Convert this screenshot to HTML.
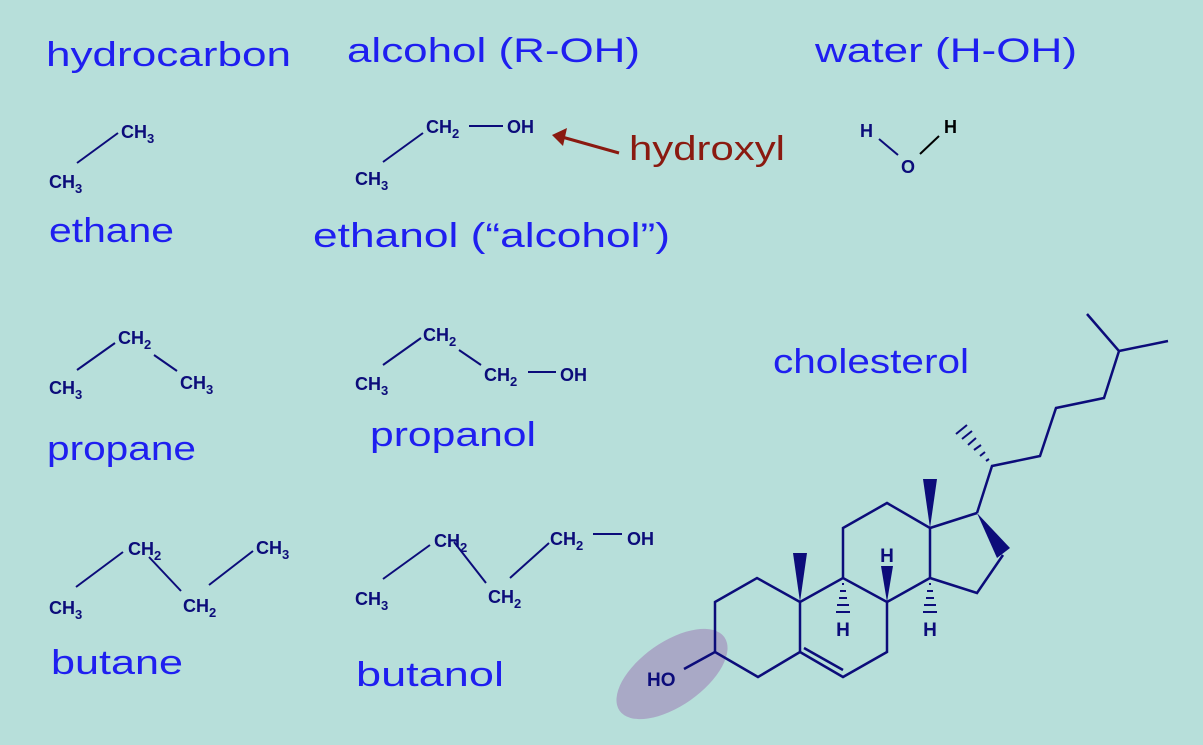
<!DOCTYPE html>
<html><head><meta charset="utf-8"><style>
html,body{margin:0;padding:0;background:#b7dfda;}
svg{display:block;}
.h{font-family:"Liberation Sans",sans-serif;fill:#1f1ff0;font-size:34px;}
.c{font-family:"Liberation Sans",sans-serif;font-weight:bold;fill:#0c0c7a;font-size:18px;}
.c tspan.s{font-size:13px;}
</style></head><body>
<svg width="1203" height="745" viewBox="0 0 1203 745" xmlns="http://www.w3.org/2000/svg">
<rect width="1203" height="745" fill="#b7dfda"/>
<!-- headings -->
<text class="h" x="46" y="66" textLength="245" lengthAdjust="spacingAndGlyphs">hydrocarbon</text>
<text class="h" x="347" y="62" textLength="293" lengthAdjust="spacingAndGlyphs">alcohol (R-OH)</text>
<text class="h" x="815" y="62" textLength="262" lengthAdjust="spacingAndGlyphs">water (H-OH)</text>
<text class="h" x="49" y="242" textLength="125" lengthAdjust="spacingAndGlyphs">ethane</text>
<text class="h" x="313" y="247" textLength="357" lengthAdjust="spacingAndGlyphs">ethanol (“alcohol”)</text>
<text class="h" x="47" y="460" textLength="149" lengthAdjust="spacingAndGlyphs">propane</text>
<text class="h" x="370" y="446" textLength="166" lengthAdjust="spacingAndGlyphs">propanol</text>
<text class="h" x="51" y="674" textLength="132" lengthAdjust="spacingAndGlyphs">butane</text>
<text class="h" x="356" y="686" textLength="148" lengthAdjust="spacingAndGlyphs">butanol</text>
<text class="h" x="773" y="373" textLength="196" lengthAdjust="spacingAndGlyphs">cholesterol</text>
<text class="h" x="629" y="160" textLength="156" lengthAdjust="spacingAndGlyphs" style="fill:#8a1a10">hydroxyl</text>
<!-- arrow -->
<line x1="619" y1="153" x2="562" y2="137" stroke="#8a1a10" stroke-width="3"/>
<polygon points="552,135 567,128 563,146" fill="#8a1a10"/>

<g stroke="#0c0c7a" stroke-width="2" fill="none">
<!-- ethane -->
<line x1="77" y1="163" x2="118" y2="133"/>
<!-- ethanol -->
<line x1="383" y1="162" x2="423" y2="133"/>
<line x1="469" y1="126" x2="503" y2="126"/>
<!-- propane -->
<line x1="77" y1="370" x2="115" y2="343"/>
<line x1="154" y1="355" x2="177" y2="371"/>
<!-- propanol -->
<line x1="383" y1="365" x2="421" y2="338"/>
<line x1="459" y1="350" x2="481" y2="365"/>
<line x1="528" y1="372" x2="556" y2="372"/>
<!-- butane -->
<line x1="76" y1="587" x2="123" y2="552"/>
<line x1="149" y1="557" x2="181" y2="591"/>
<line x1="209" y1="585" x2="253" y2="551"/>
<!-- butanol -->
<line x1="383" y1="579" x2="430" y2="545"/>
<line x1="454" y1="542" x2="486" y2="583"/>
<line x1="510" y1="578" x2="549" y2="543"/>
<line x1="593" y1="534" x2="622" y2="534"/>
<!-- water -->
<line x1="879" y1="139" x2="898" y2="155"/>
<line x1="920" y1="154" x2="939" y2="136" stroke="#000"/>
</g>

<!-- chem labels -->
<g class="c">
<text class="c" x="121" y="138">CH<tspan class="s" dy="5">3</tspan></text>
<text class="c" x="49" y="188">CH<tspan class="s" dy="5">3</tspan></text>
<text class="c" x="426" y="133">CH<tspan class="s" dy="5">2</tspan></text>
<text class="c" x="507" y="133">OH</text>
<text class="c" x="355" y="185">CH<tspan class="s" dy="5">3</tspan></text>
<text class="c" x="118" y="344">CH<tspan class="s" dy="5">2</tspan></text>
<text class="c" x="49" y="394">CH<tspan class="s" dy="5">3</tspan></text>
<text class="c" x="180" y="389">CH<tspan class="s" dy="5">3</tspan></text>
<text class="c" x="423" y="341">CH<tspan class="s" dy="5">2</tspan></text>
<text class="c" x="355" y="390">CH<tspan class="s" dy="5">3</tspan></text>
<text class="c" x="484" y="381">CH<tspan class="s" dy="5">2</tspan></text>
<text class="c" x="560" y="381">OH</text>
<text class="c" x="128" y="555">CH<tspan class="s" dy="5">2</tspan></text>
<text class="c" x="49" y="614">CH<tspan class="s" dy="5">3</tspan></text>
<text class="c" x="183" y="612">CH<tspan class="s" dy="5">2</tspan></text>
<text class="c" x="256" y="554">CH<tspan class="s" dy="5">3</tspan></text>
<text class="c" x="434" y="547">CH<tspan class="s" dy="5">2</tspan></text>
<text class="c" x="355" y="605">CH<tspan class="s" dy="5">3</tspan></text>
<text class="c" x="488" y="603">CH<tspan class="s" dy="5">2</tspan></text>
<text class="c" x="550" y="545">CH<tspan class="s" dy="5">2</tspan></text>
<text class="c" x="627" y="545">OH</text>
<text class="c" x="860" y="137">H</text>
<text class="c" x="944" y="133" style="fill:#000">H</text>
<text class="c" x="901" y="173">O</text>
</g>

<!-- cholesterol -->
<ellipse cx="672" cy="674" rx="64" ry="32" transform="rotate(-35 672 674)" fill="#a9a9c6"/>
<g stroke="#0c0c7a" stroke-width="2.5" fill="none" stroke-linejoin="miter">
<polyline points="800,602 757,578 715,602 715,652 758,677 800,652 800,602 843,578 887,602 887,652 843,677 800,652"/>
<line x1="715" y1="652" x2="684" y2="669"/>
<line x1="804" y1="648" x2="843" y2="670"/>
<polyline points="843,578 843,528 887,503 930,528 930,578 887,602"/>
<polyline points="930,528 977,513"/>
<polyline points="1003,555 977,593 930,578"/>
<polyline points="977,513 992,466 1040,456 1056,408 1104,398 1119,351 1087,314"/>
<line x1="1119" y1="351" x2="1168" y2="341"/>
</g>
<g fill="#0c0c7a">
<polygon points="800,602 793,553 807,553"/>
<polygon points="930,528 923,479 937,479"/>
<polygon points="887,602 881,566 893,566"/>
<polygon points="977,513 1010,548 997,558"/>
</g>
<g stroke="#0c0c7a" stroke-width="2">
<line x1="842" y1="584" x2="844" y2="584"/>
<line x1="840" y1="591" x2="846" y2="591"/>
<line x1="839" y1="598" x2="847" y2="598"/>
<line x1="837" y1="605" x2="849" y2="605"/>
<line x1="836" y1="612" x2="850" y2="612"/>
<line x1="929" y1="584" x2="931" y2="584"/>
<line x1="927" y1="591" x2="933" y2="591"/>
<line x1="926" y1="598" x2="934" y2="598"/>
<line x1="924" y1="605" x2="936" y2="605"/>
<line x1="923" y1="612" x2="937" y2="612"/>
<!-- hashed methyl -->
<line x1="986" y1="461" x2="989" y2="459"/>
<line x1="980" y1="456" x2="985" y2="452"/>
<line x1="974" y1="450" x2="981" y2="445"/>
<line x1="968" y1="445" x2="976" y2="438"/>
<line x1="962" y1="439" x2="972" y2="431"/>
<line x1="956" y1="434" x2="967" y2="425"/>
</g>
<g class="c" style="font-size:19px">
<text x="887" y="562" text-anchor="middle" class="c" style="font-size:19px">H</text>
<text x="843" y="636" text-anchor="middle" class="c" style="font-size:19px">H</text>
<text x="930" y="636" text-anchor="middle" class="c" style="font-size:19px">H</text>
<text x="647" y="686" class="c" style="font-size:19px">HO</text>
</g>
</svg>
</body></html>
